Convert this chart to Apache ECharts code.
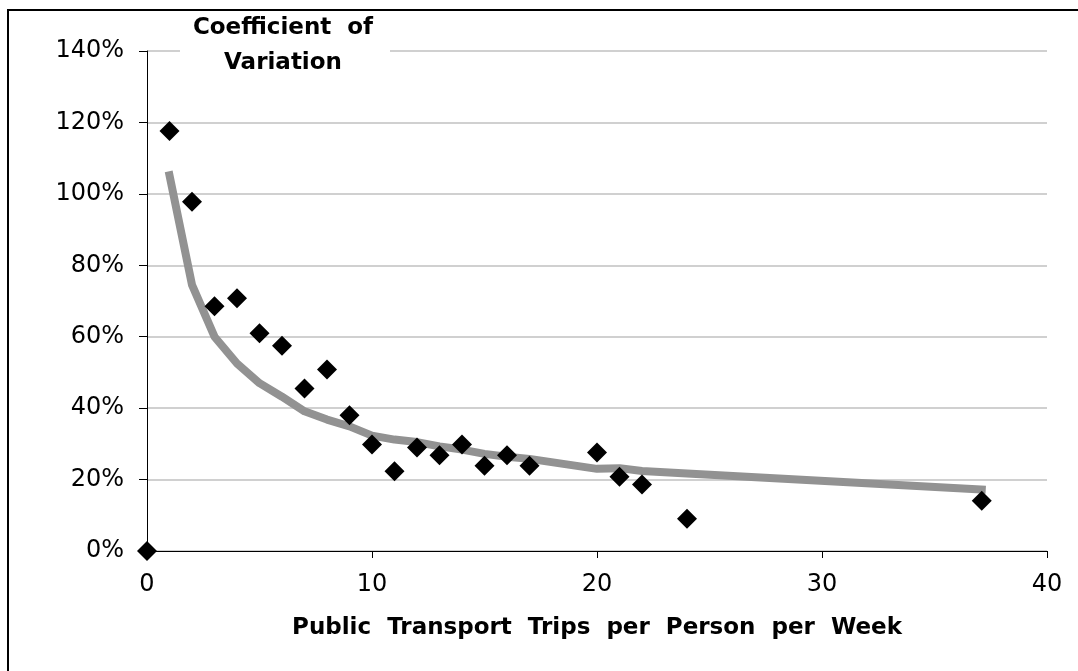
<!DOCTYPE html>
<html>
<head>
<meta charset="utf-8">
<script src="https://cdn.jsdelivr.net/npm/echarts@6/dist/echarts.min.js"></script>
<style>
  html, body { margin: 0; padding: 0; background: #fff; }
  #chart { width: 1078px; height: 671px; }
</style>
</head>
<body>
<div id="chart"></div>
<script>
// Observed points: public transport trips per person per week vs coefficient of variation (%)
const tripsX = [0, 1, 2, 3, 4, 5, 6, 7, 8, 9, 10, 11, 12, 13, 14, 15, 16, 17, 20, 21, 22, 24, 37.1];
const covY   = [0, 117.6, 97.8, 68.5, 70.8, 61.0, 57.5, 45.5, 50.8, 38.0, 29.8, 22.3, 29.0, 26.8, 29.8, 23.9, 26.8, 23.9, 27.6, 20.8, 18.6, 9.0, 14.1];

// Trend line values
const trendX = [1, 2, 3, 4, 5, 6, 7, 8, 9, 10, 11, 12, 13, 14, 15, 16, 17, 20, 21, 22, 24, 37.1];
const trendY = [105.2, 74.5, 60.0, 52.5, 47.0, 43.2, 39.1, 36.8, 34.9, 32.3, 31.2, 30.5, 29.3, 28.4, 27.2, 26.4, 25.8, 23.0, 23.2, 22.4, 21.7, 17.2];

const xTicks = [0, 10, 20, 30, 40];
const yTicks = [0, 20, 40, 60, 80, 100, 120, 140];

const titleLines = ['Coefficient  of', 'Variation'];
const xTitle = 'Public  Transport  Trips  per  Person  per  Week';

const scatterData = tripsX.map((x, i) => [x, covY[i]]);
const trendData = trendX.map((x, i) => [x, trendY[i]]);

const FONT = '"DejaVu Sans", "Liberation Sans", Arial, sans-serif';

const chart = echarts.init(document.getElementById('chart'), null, { renderer: 'canvas' });
chart.setOption({
  animation: false,
  backgroundColor: '#fff',
  grid: { left: 147, right: 31, top: 51, bottom: 120, containLabel: false },
  xAxis: {
    type: 'value',
    min: xTicks[0],
    max: xTicks[xTicks.length - 1],
    interval: xTicks[1] - xTicks[0],
    axisLine: { show: true, lineStyle: { color: '#000', width: 1 } },
    axisTick: { show: true, inside: false, length: 7, lineStyle: { color: '#000' } },
    axisLabel: { fontFamily: FONT, fontSize: 24, color: '#000', margin: 22 },
    splitLine: { show: false },
    name: xTitle,
    nameLocation: 'middle',
    nameGap: 66,
    nameTextStyle: { fontFamily: FONT, fontSize: 23, fontWeight: 'bold', color: '#000' }
  },
  yAxis: {
    type: 'value',
    min: yTicks[0],
    max: yTicks[yTicks.length - 1],
    interval: yTicks[1] - yTicks[0],
    axisLine: { show: true, lineStyle: { color: '#000', width: 1 } },
    axisTick: { show: true, inside: false, length: 8, lineStyle: { color: '#000' } },
    axisLabel: { fontFamily: FONT, fontSize: 24, color: '#000', margin: 23, formatter: v => v + '%' },
    splitLine: { show: true, lineStyle: { color: '#c0c0c0', width: 1.5 } }
  },
  series: [
    {
      type: 'line',
      data: trendData,
      showSymbol: false,
      symbol: 'none',
      smooth: false,
      lineStyle: { color: '#929292', width: 8, cap: 'square', join: 'round' },
      z: 2,
      silent: true
    },
    {
      type: 'scatter',
      data: scatterData,
      symbol: 'diamond',
      symbolSize: 20,
      itemStyle: { color: '#000', opacity: 1 },
      clip: false,
      z: 5
    }
  ],
  graphic: [
    {
      type: 'polyline',
      shape: { points: [[8, 671], [8, 10], [1078, 10]] },
      style: { stroke: '#000', lineWidth: 2, fill: null },
      z: 100
    },
    {
      type: 'rect',
      shape: { x: 180, y: 40, width: 210, height: 24 },
      style: { fill: '#fff' },
      z: 50
    },
    {
      type: 'text',
      x: 283,
      y: 11,
      style: {
        text: titleLines.join('\n'),
        font: 'bold 23px ' + FONT,
        fill: '#000',
        align: 'center',
        verticalAlign: 'top',
        lineHeight: 34.5
      },
      z: 60
    }
  ]
});
</script>
</body>
</html>
